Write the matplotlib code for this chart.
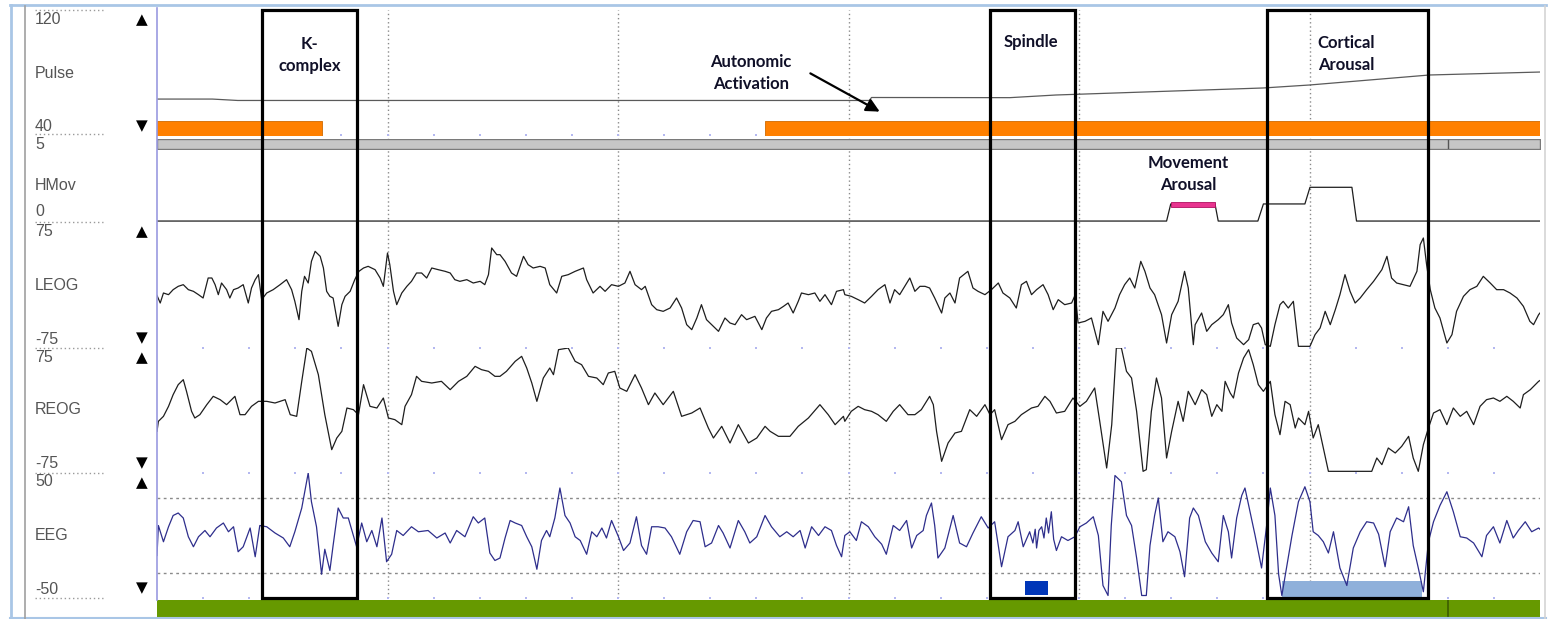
import matplotlib.pyplot as plt
from matplotlib.patches import Rectangle
from matplotlib.lines import Line2D

W, H = 1551, 619

# ---------------- data (epoch of 30 s) ----------------
grid_t = [5, 10, 15, 20, 25]
second_t = list(range(1, 30))

pulse_t = [0, 1.2, 1.75, 15.45, 15.5, 18.5, 19.5, 24.0, 25.0, 27.6, 30]
pulse_v = [63.0, 63.0, 62.1, 62.1, 64.0, 63.9, 65.6, 70.1, 72.0, 78.4, 80.3]

hmov_t = [0, 21.90, 21.99, 22.95, 23.02, 23.88, 24.0, 24.90, 25.01, 25.92, 26.02, 30]
hmov_v = [0.13, 0.13, 1.27, 1.27, 0.13, 0.13, 1.27, 1.27, 2.38, 2.38, 0.13, 0.13]

leog_t = [0, 0.07, 0.14, 0.25, 0.35, 0.46, 0.57, 0.68, 0.79, 0.90, 1.00, 1.11, 1.19, 1.26, 1.33,
          1.40, 1.51, 1.58, 1.66, 1.76, 1.87, 1.98, 2.05, 2.13, 2.20, 2.27, 2.38, 2.52, 2.67, 2.81,
          2.92, 2.99, 3.08, 3.14, 3.20, 3.28, 3.35, 3.43, 3.54, 3.61, 3.68, 3.75, 3.82, 3.93, 4.01,
          4.08, 4.19, 4.29, 4.38, 4.48, 4.58, 4.73, 4.84, 4.91, 5.00, 5.05, 5.13, 5.20, 5.31, 5.42,
          5.52, 5.63, 5.74, 5.85, 5.96, 6.10, 6.25, 6.36, 6.46, 6.57, 6.72, 6.86, 7.01, 7.11, 7.19,
          7.26, 7.37,
          7.44, 7.55, 7.69, 7.80, 7.95, 8.05, 8.16, 8.31, 8.42, 8.52, 8.67, 8.78, 8.92, 9.07, 9.25,
          9.32, 9.46, 9.61, 9.72, 9.86, 10.01, 10.15, 10.26, 10.37, 10.51, 10.59, 10.73, 10.84,
          10.98, 11.13, 11.27, 11.38, 11.49, 11.60, 11.71, 11.81, 11.92, 12.07, 12.18, 12.32, 12.43,
          12.54, 12.68, 12.79, 12.97, 13.12, 13.22, 13.33, 13.48, 13.59, 13.69, 13.80, 13.91, 13.98,
          14.13, 14.27, 14.38, 14.49, 14.63, 14.74, 14.89,
          14.92, 15.06, 15.21, 15.35, 15.50, 15.64, 15.79, 15.90, 16.00, 16.11, 16.22, 16.33, 16.44,
          16.55, 16.66, 16.76, 16.87, 17.02, 17.09, 17.20, 17.31, 17.41, 17.59, 17.70, 17.81, 17.96,
          18.10, 18.25, 18.35, 18.50, 18.64, 18.75, 18.86, 18.97, 19.08, 19.22, 19.33, 19.44, 19.55,
          19.69, 19.84, 19.92, 19.98, 20.13, 20.27, 20.42, 20.52, 20.63, 20.78, 20.88, 20.99, 21.10,
          21.21, 21.34, 21.43, 21.54, 21.64, 21.79, 21.90, 22.01, 22.15, 22.29, 22.37, 22.48,
          22.52, 22.66, 22.77, 22.88, 23.02, 23.13, 23.24, 23.31, 23.42, 23.57, 23.68, 23.78, 23.89,
          23.96, 24.04, 24.15, 24.25, 24.36, 24.43, 24.54, 24.65, 24.76, 25.01, 25.12, 25.23, 25.34,
          25.45, 25.56, 25.66, 25.77, 25.88, 25.99, 26.10, 26.24, 26.39, 26.57, 26.68, 26.78, 26.89,
          27.04, 27.18, 27.33, 27.40, 27.47, 27.54, 27.62, 27.72, 27.83, 27.98, 28.09, 28.19, 28.34,
          28.48, 28.63, 28.77, 28.92, 29.06, 29.21, 29.35, 29.50, 29.64, 29.78, 29.86, 29.97, 30.0]
leog_v = [-12, -21, -9, -11, -5, -1, 1, -5, -7, -11, -15, 9, 9, 1, -11,
          3, -5, -15, -5, -3, 1, -21, -3, 7, 13, -17, -9, -5, 1, 7,
          -5, -19, -41, -7, 11, 3, 29, 41, 35, 21, -7, -13, -15, -49, -23,
          -13, -7, 7, 17, 21, 23, 19, 9, -1, 39, 25, -7, -23, -9, -1,
          5, 15, 15, 9, 21, 19, 17, 15, 7, 5, 7, 3, 5, 1, 13,
          45, 37,
          37, 29, 15, 11, 35, 25, 21, 23, 21, 1, -9, 11, 13, 17, 21,
          7, -9, -1, -7, 1, -1, 3, 17, 1, -5, -1, -23, -29,
          -31, -27, -15, -27, -47, -53, -39, -23, -41, -49, -55, -39, -45,
          -47, -35, -41, -37, -53, -39, -31, -29, -25, -21, -33, -19, -9,
          -11, -9, -19, -11, -23, -7, -5,
          -11, -13, -17, -21, -13, -5, 1, -21, -5, -11, -1, 9, -7,
          -1, -1, -3, -15, -33, -15, -9, -21, 9, 17, -3, -7, -11,
          -5, 3, -9, -15, -27, 1, 5, -11, -5, 1, -11, -29, -17,
          -23, -21, -11, -45, -43, -39, -71, -31, -43, -27, -11, 1, 9,
          -3, 29, 17, -3, -11, -35, -69, -35, -19, 17, -3, -71,
          -47, -33, -55, -47, -41, -35, -23, -45, -63, -71, -65, -47, -45,
          -51, -71, -73, -47, -23, -19, -27, -19, -73, -73, -59, -51, -31,
          -47, -29, -11, 13, -7, -21, -15, -5, 5, 19, 35, 9, 3,
          1, -1, 17, 49, 57, 25, -5, -27, -39, -69, -59, -31, -13,
          -5, -1, 11, 3, -5, -5, -9, -15, -25, -43, -47, -35, -33]

reog_t = [0, 0.03, 0.14, 0.25, 0.35, 0.46, 0.57, 0.64, 0.75, 0.82, 0.93, 1.08, 1.22, 1.37, 1.51,
          1.69, 1.80, 1.91, 2.05, 2.20, 2.38, 2.56, 2.78, 2.89, 3.03, 3.14, 3.25, 3.35, 3.50, 3.64,
          3.79, 3.90, 4.01, 4.12, 4.26, 4.37, 4.48, 4.62, 4.77, 4.91, 5.02, 5.16, 5.31, 5.38, 5.52,
          5.63, 5.74, 5.96, 6.17, 6.36, 6.54, 6.72, 6.90, 7.04, 7.19, 7.33,
          7.44, 7.58, 7.77, 7.91, 8.02, 8.13, 8.24, 8.38, 8.52, 8.60, 8.71, 8.92, 9.07, 9.21, 9.36,
          9.54, 9.68, 9.79, 9.93, 10.04, 10.19, 10.37, 10.51, 10.66, 10.80, 10.98, 11.20, 11.38,
          11.60, 11.78, 11.96, 12.07, 12.25, 12.43, 12.61, 12.83, 13.01, 13.19, 13.30, 13.48, 13.73,
          13.91, 14.13, 14.38, 14.56, 14.71, 14.89,
          14.92, 15.06, 15.21, 15.35, 15.50, 15.64, 15.82, 15.97, 16.11, 16.29, 16.44, 16.58, 16.76,
          16.84, 16.91, 17.02, 17.16, 17.31, 17.45, 17.63, 17.78, 17.96, 18.07, 18.17, 18.32, 18.46,
          18.61, 18.75, 18.97, 19.11, 19.26, 19.37, 19.51, 19.69, 19.87, 20.02, 20.16, 20.34, 20.45,
          20.60, 20.71, 20.81, 20.92, 21.03, 21.14, 21.25, 21.39, 21.46, 21.57, 21.68, 21.79, 21.90,
          22.01, 22.15, 22.26, 22.37,
          22.52, 22.66, 22.77, 22.88, 22.99, 23.10, 23.17, 23.28, 23.35, 23.46, 23.57, 23.68, 23.78,
          23.89, 24.00, 24.15, 24.25, 24.36, 24.47, 24.58, 24.69, 24.76, 24.90, 24.98, 25.08, 25.19,
          25.41, 26.35, 26.46, 26.57, 26.71, 26.86, 27.00, 27.15, 27.25, 27.36, 27.47, 27.58, 27.69,
          27.83, 27.98, 28.12, 28.27, 28.41, 28.56, 28.70, 28.84, 28.99, 29.13, 29.28, 29.42, 29.57,
          29.64, 29.79, 29.97, 30.0]
reog_v = [-25, -13, -7, 5, 19, 31, 37, 23, -1, -9, -5, 7, 17, 13, 7,
          17, -5, -5, 5, 11, 11, 9, 13, -5, -7, 35, 75, 71, 43, -5,
          -47, -33, -25, 3, 1, -5, 31, 5, 3, 15, -9, -11, -17, 5, 19,
          41, 35, 33, 35, 25, 35, 41, 53, 49, 47, 41,
          41, 47, 59, 65, 51, 33, 11, 39, 51, 43, 73, 75, 59, 55, 41,
          39, 31, 45, 47, 27, 23, 43, 27, 7, 21, 7, 23, -7,
          -3, 3, -21, -33, -19, -39, -17, -39, -33, -19, -25, -31, -31,
          -19, -9, 7, -5, -17, -7,
          -13, -1, 5, 1, -1, -5, -13, -1, 7, -5, -5, 1, 17,
          7, -25, -61, -39, -27, -25, 1, -7, 7, -5, 1, -35, -17,
          -13, -5, 3, 5, 17, 11, -3, -1, 15, 5, 11, 27, -13,
          -69, -17, 75, 75, 47, 39, -1, -73, -71, -1, 39, 15, -57,
          -25, 11, -13, 23,
          7, 25, 19, -7, 7, -1, 35, 21, 15, 45, 63, 73, 55,
          31, 23, 35, -5, -29, 11, 7, -21, -9, -17, -1, -33, -17,
          -73, -73, -57, -65, -45, -51, -43, -31, -57, -73, -41, -21, -3,
          1, -17, 3, -7, -1, -17, 5, 13, 15, 11, 17, 11, 3,
          19, 25, 35, 36]

eeg_t = [0, 0.03, 0.14, 0.25, 0.35, 0.46, 0.57, 0.68, 0.79, 0.90, 1.04, 1.15, 1.29, 1.44, 1.55,
         1.66, 1.76, 1.87, 2.02, 2.13, 2.23, 2.38, 2.56, 2.74, 2.88, 2.99, 3.14, 3.28, 3.35, 3.46,
         3.57, 3.64, 3.75, 3.82, 3.93, 4.04, 4.15, 4.33, 4.44, 4.55, 4.66, 4.77, 4.88, 4.98, 5.09,
         5.20, 5.34, 5.52, 5.67, 5.88, 6.07, 6.25, 6.36, 6.50, 6.68, 6.86, 6.97, 7.11, 7.22, 7.33,
         7.44, 7.55, 7.66, 7.77, 7.91, 8.02, 8.13, 8.24, 8.34, 8.45, 8.52, 8.63, 8.74, 8.85, 8.96,
         9.07, 9.18, 9.32, 9.43, 9.54, 9.65, 9.75, 9.86, 10.01, 10.12, 10.26, 10.40, 10.51, 10.62,
         10.73, 10.87, 11.02, 11.16, 11.34, 11.49, 11.63, 11.78, 11.89, 12.03, 12.18, 12.28, 12.43,
         12.61, 12.75, 12.86, 13.01, 13.19, 13.33, 13.51, 13.66, 13.80, 13.95, 14.06, 14.20, 14.35,
         14.49, 14.63, 14.74, 14.85,
         14.92, 15.03, 15.17, 15.28, 15.43, 15.57, 15.72, 15.82, 15.97, 16.11, 16.26, 16.37, 16.48,
         16.62, 16.69, 16.80, 16.87, 16.94, 17.09, 17.27, 17.41, 17.56, 17.70, 17.88, 18.03, 18.17,
         18.32, 18.46, 18.61, 18.68, 18.79, 18.93, 19.00, 19.05, 19.08, 19.13, 19.19, 19.24, 19.29,
         19.34, 19.40, 19.45, 19.51, 19.62, 19.76, 19.91, 20.02, 20.16, 20.31, 20.42, 20.52, 20.63,
         20.70, 20.78, 20.92, 21.03, 21.14, 21.25, 21.36, 21.46, 21.54, 21.64, 21.72, 21.82, 21.93,
         22.08, 22.19, 22.29, 22.40,
         22.48, 22.59, 22.74, 22.88, 23.02, 23.13, 23.24, 23.31, 23.42, 23.53, 23.60, 23.71, 23.82,
         23.96, 24.07, 24.15, 24.25, 24.33, 24.40, 24.51, 24.62, 24.76, 24.90, 25.01, 25.08, 25.19,
         25.30, 25.41, 25.52, 25.66, 25.81, 25.95, 26.10, 26.24, 26.39, 26.50, 26.64, 26.75, 26.89,
         27.04, 27.15, 27.25, 27.36, 27.47, 27.58, 27.69, 27.83, 27.98, 28.12, 28.27, 28.41, 28.56,
         28.74, 28.84, 28.99, 29.13, 29.28, 29.42, 29.53, 29.68, 29.82, 29.97, 30.0]
eeg_v = [-16, 8, -5, 7, 16, 18, 14, -1, -9, -1, 4, -1, 6, 10, 3,
         7, -13, -9, 6, -17, 8, 7, 2, -2, -9, 3, 22, 50, 27, 7,
         -31, -11, -28, -8, 22, 14, 14, -9, 10, -5, 4, -9, 14, -21, -15,
         4, 0, 7, 3, 4, -2, 2, -6, 4, -1, 15, 10, 14, -14, -20,
         -18, -2, 12, 10, 8, -1, -9, -27, -4, 4, -1, 14, 38, 16, 10,
         -1, -4, -15, 3, -1, 6, -2, 12, -1, -12, -6, 15, -8, -15,
         7, 7, 6, -1, -15, 3, 12, 11, -9, -6, 8, 2, -10,
         12, 3, -6, -1, 16, 7, -1, 3, -1, 4, -10, 7, 0,
         7, 4, -8, -17,
         0, 3, -4, 11, 7, -1, -7, -15, 8, 4, 12, -10, 0,
         4, 16, 26, 8, -18, -10, 16, -6, -9, 2, 15, 6, 11,
         -25, -1, 4, 11, -9, 3, -6, 5, -10, 4, 7, -2, 14,
         2, 19, -3, -12, -1, -4, -1, 7, 10, 15, 0, -40, -48,
         8, 48, 43, 16, 8, -18, -48, -48, -8, 16, 30, -5, 3,
         -1, -13, -33, 14,
         22, 16, -5, -14, -21, 16, 3, -18, 14, 32, 38, 19, 0,
         -26, 8, 38, 16, -31, -48, -24, 0, 27, 39, 27, 3, 0,
         -5, -14, 3, -26, -40, -10, 3, 11, 10, 1, -25, 3, 14,
         11, 23, -8, -26, -45, -5, 11, 24, 35, 19, -1, -2, -6,
         -17, 0, 7, -6, 12, -2, 4, 11, 3, 6, 5]

# scored events (seconds)
box_names = ['K-\ncomplex', 'Spindle', 'Cortical\nArousal']
box_start = [2.28, 18.07, 24.08]
box_end = [4.34, 19.91, 27.57]
auto_start = [0.0, 13.19]
auto_end = [3.58, 30.0]
move_start, move_end = 21.99, 22.95
spindle_mark = (18.83, 19.33)
arousal_mark = (24.40, 27.44)
marker_t = 28.0

# ---------------- figure ----------------
fig = plt.figure(figsize=(W / 100, H / 100), dpi=100)
X0, X1 = 157, 1540


def fx(x):
    return x / W


def fy(y):
    return 1 - y / H


def band(top, bottom, ylim=(0, 1)):
    ax = fig.add_axes([fx(X0), fy(bottom), (X1 - X0) / W, (bottom - top) / H])
    ax.set_xlim(0, 30)
    ax.set_ylim(*ylim)
    ax.axis('off')
    return ax


# background grid
bg = band(10, 598)
for t in grid_t:
    bg.axvline(t, color='#8a8a8a', lw=1.0, ls=(0, (1, 2)))

trace_kw = dict(color='#1e1e1e', lw=0.9)

ax_p = band(10, 135, (40, 120))
ax_p.plot(pulse_t, pulse_v, color='#5a5a5a', lw=0.9)

ax_o = band(120.5, 135.5)
ax_o.broken_barh([(s, e - s) for s, e in zip(auto_start, auto_end)], (0, 1),
                 facecolor='#ff8000', edgecolor='#d06a00', lw=0.6)

ax_g = band(138.5, 149)
ax_g.broken_barh([(0, 30)], (0, 1), facecolor='#c6c6c6', edgecolor='#7a7a7a', lw=1.0)
ax_g.plot([marker_t, marker_t], [0.1, 0.9], color='#555555', lw=1)

ax_h = band(148, 223, (0, 5))
ax_h.plot(hmov_t, hmov_v, **trace_kw)
ax_h.broken_barh([(move_start, move_end - move_start)], (1.08, 0.35),
                 facecolor='#e8348f', edgecolor='#b01060', lw=0.6, zorder=3)

ax_l = band(223, 348, (-75, 75))
ax_l.plot(leog_t, leog_v, **trace_kw)

ax_r = band(348, 473, (-75, 75))
ax_r.plot(reog_t, reog_v, **trace_kw)

ax_e = band(473, 598, (-50, 50))
for lvl in (30, -30):
    ax_e.axhline(lvl, color='#8a8a8a', lw=1.0, ls=(0, (2, 2.5)))
ax_e.plot(eeg_t, eeg_v, color='#2e2e8c', lw=0.9)
ax_e.broken_barh([(spindle_mark[0], spindle_mark[1] - spindle_mark[0])], (-47.5, 11),
                 facecolor='#0036b8', edgecolor='none', zorder=3)
ax_e.broken_barh([(arousal_mark[0], arousal_mark[1] - arousal_mark[0])], (-49, 12.5),
                 facecolor='#8fb0da', edgecolor='none', zorder=1)

# second ticks along channel bottoms
for ax, lo in ((ax_p, 40), (ax_l, -75), (ax_r, -75), (ax_e, -50)):
    ax.scatter(second_t, [lo] * len(second_t), s=1.2, color='#b4b8f0', marker='s',
               linewidths=0, clip_on=False, zorder=1)

ax_gr = band(600, 617)
ax_gr.broken_barh([(0, 30)], (0, 1), facecolor='#669900', edgecolor='none')
ax_gr.plot([marker_t, marker_t], [0, 1], color='#3d5c00', lw=1.2)

# scored boxes on top
ov = band(10, 598)
for s, e in zip(box_start, box_end):
    ov.add_patch(Rectangle((s, 0), e - s, 1, fill=False, edgecolor='black', lw=2.3,
                           clip_on=False))

# ---------------- frame & left panel ----------------
def fline(xs, ys, **kw):
    fig.add_artist(Line2D([fx(x) for x in xs], [fy(y) for y in ys], **kw))


fline([10, 1546], [5, 5], color='#a9c6e6', lw=2)
fline([11, 11], [5, 619], color='#a9c6e6', lw=2)
fline([10, 1546], [618, 618], color='#a9c6e6', lw=1.5)
fline([25, 25], [6, 619], color='#a0a0a0', lw=1.2)
fline([1545, 1545], [6, 619], color='#d4d4d4', lw=1.2)
fline([157, 157], [8, 600], color='#9a9ae0', lw=1.2)
for y in (10, 134, 222, 348, 473, 598):
    fline([35, 103], [y, y], color='#9a9a9a', lw=1.0, ls=(0, (1, 2)))

lab = dict(fontsize=11.5, color='#555555', family='Liberation Sans', va='center', ha='left')
left_labels = [('120', 20), ('Pulse', 73), ('40', 126), ('5', 145), ('HMov', 185), ('0', 212),
               ('75', 232), ('LEOG', 285), ('-75', 340), ('75', 357), ('REOG', 410),
               ('-75', 464), ('50', 482), ('EEG', 535), ('-50', 589)]
for txt, y in left_labels:
    fig.text(fx(35), fy(y), txt, **lab)

tri = dict(fontsize=11, color='black', family='DejaVu Sans', ha='center', va='center')
for sym, y in (('▲', 20), ('▼', 126), ('▲', 232), ('▼', 338), ('▲', 358), ('▼', 463),
               ('▲', 483), ('▼', 588)):
    fig.text(fx(142), fy(y), sym, **tri)

# ---------------- annotations ----------------
ann = dict(fontsize=12, fontweight='bold', color='#101028', family='Lato',
           ha='center', va='center', linespacing=1.45)
fig.text(fx(310), fy(55), box_names[0], **ann)
fig.text(fx(1031), fy(42), box_names[1], **ann)
fig.text(fx(1346), fy(54), box_names[2], **ann)
fig.text(fx(751), fy(73), 'Autonomic\nActivation', **ann)
fig.text(fx(1188), fy(174), 'Movement\nArousal', **ann)

ax_p.annotate('', xy=(15.73, 54.1), xytext=(14.12, 80.3), annotation_clip=False,
              arrowprops=dict(arrowstyle='-|>', color='black', lw=1.6, mutation_scale=20))

fig.savefig('out.png', dpi=100)
